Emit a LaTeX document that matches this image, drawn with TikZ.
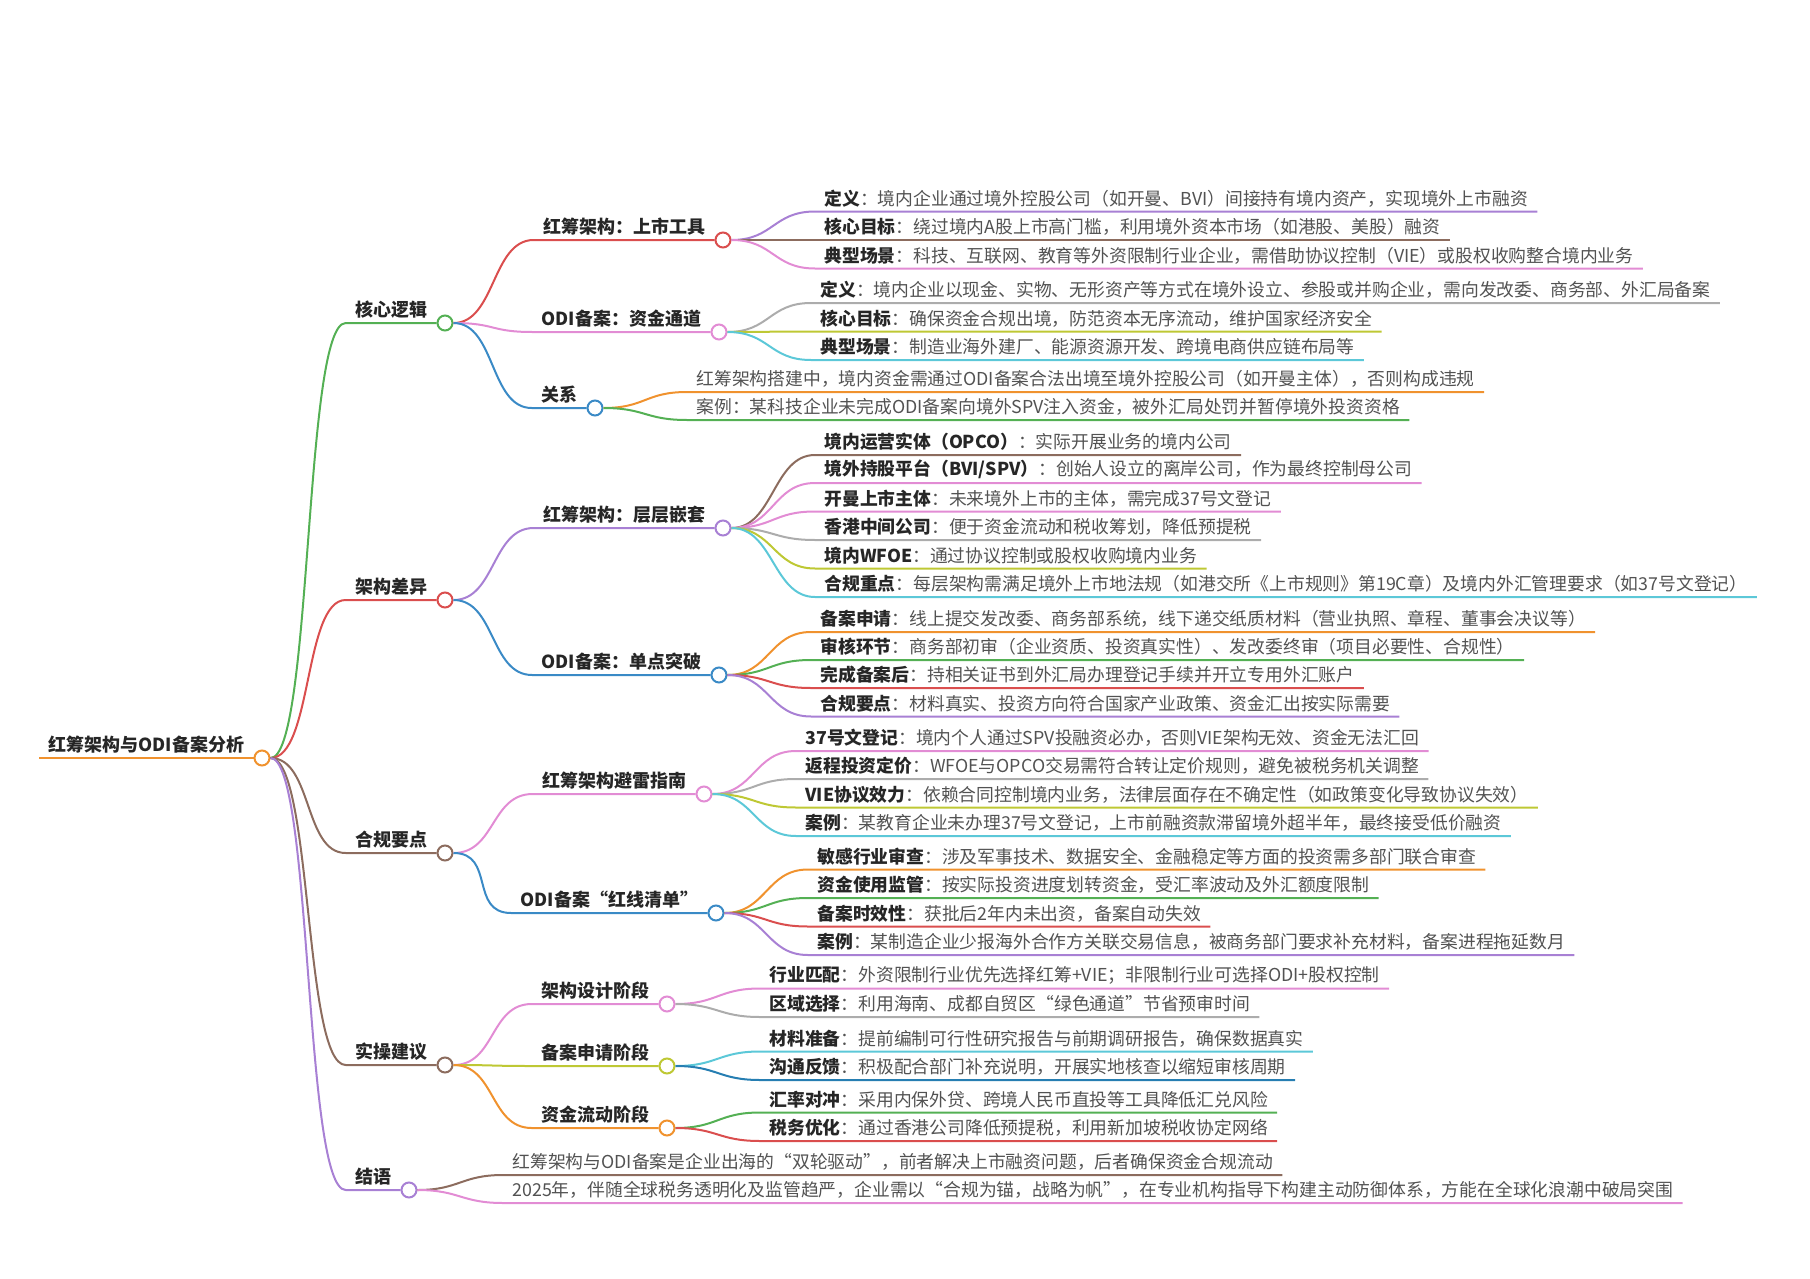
\documentclass[tikz,border=0pt]{standalone}
\usepackage{fontspec}
\newfontfamily\cjk{Noto Sans CJK SC}
\usetikzlibrary{positioning}
\definecolor{corange}{RGB}{240,146,46}
\definecolor{cgreen}{RGB}{84,176,84}
\definecolor{cred}{RGB}{218,78,78}
\definecolor{cbrown}{RGB}{140,108,94}
\definecolor{cpurple}{RGB}{168,128,212}
\definecolor{cpink}{RGB}{226,140,212}
\definecolor{cblue}{RGB}{58,138,198}
\definecolor{cgray}{RGB}{172,172,172}
\definecolor{colive}{RGB}{190,200,52}
\definecolor{ccyan}{RGB}{92,200,216}
\definecolor{cdeep}{RGB}{38,126,178}
\tikzstyle{knob}=[
	circle,
	draw,
	fill=white,
	line width=1pt,
	minimum size=7.5pt,
	inner sep=0pt
]
\tikzstyle{topic}=[
	inner xsep=4.5pt,
	inner ysep=2pt,
	text=black!85,
	font=\cjk\bfseries\fontsize{9pt}{11pt}\selectfont
]
\tikzstyle{leaf}=[
	anchor=south west,
	inner xsep=4.5pt,
	inner ysep=2pt,
	text=black!68,
	font=\cjk\fontsize{8.9pt}{11pt}\selectfont
]
\tikzstyle{twig}=[
	line width=1pt,
	to path={.. controls +(42,0) and +(-42,0) .. (\tikztotarget)}
]
\newcommand{\hd}[1]{\textbf{\textcolor{black!85}{#1}}}

\begin{document}
\begin{tikzpicture}[x=0.5pt,y=-0.5pt]
\useasboundingbox (0,0) rectangle (1810,1279);

\node [knob, draw=corange] (root) at (262,758) {};
\node [topic, above left=0pt of root.west] (rt) {红筹架构与ODI备案分析};
\draw [corange, line width=1pt] (rt.south west) -- (root.west);

\node [knob, draw=cgreen] (k1) at (445,323) {};
\node [topic, above left=0pt of k1.west] (t1) {核心逻辑};
\node [knob, draw=cred] (k2) at (445,600) {};
\node [topic, above left=0pt of k2.west] (t2) {架构差异};
\node [knob, draw=cbrown] (k3) at (445,853) {};
\node [topic, above left=0pt of k3.west] (t3) {合规要点};
\node [knob, draw=cbrown] (k4) at (445,1065) {};
\node [topic, above left=0pt of k4.west] (t4) {实操建议};
\node [knob, draw=cpurple] (k5) at (409,1190) {};
\node [topic, above left=0pt of k5.west] (t5) {结语};
\draw [twig, cgreen] (root.east) to (t1.south west) -- (k1.west);
\draw [twig, cred] (root.east) to (t2.south west) -- (k2.west);
\draw [twig, cbrown] (root.east) to (t3.south west) -- (k3.west);
\draw [twig, cbrown] (root.east) to (t4.south west) -- (k4.west);
\draw [twig, cpurple] (root.east) to (t5.south west) -- (k5.west);

\node [knob, draw=cred] (k11) at (723,240) {};
\node [topic, above left=0pt of k11.west] (t11) {红筹架构：上市工具};
\node [knob, draw=cpink] (k12) at (719,332) {};
\node [topic, above left=0pt of k12.west] (t12) {ODI备案：资金通道};
\node [knob, draw=cblue] (k13) at (595,408) {};
\node [topic, above left=0pt of k13.west] (t13) {关系};
\draw [twig, cred] (k1.east) to (t11.south west) -- (k11.west);
\draw [twig, cpink] (k1.east) to (t12.south west) -- (k12.west);
\draw [twig, cblue] (k1.east) to (t13.south west) -- (k13.west);

\node [knob, draw=cpurple] (k21) at (723,528) {};
\node [topic, above left=0pt of k21.west] (t21) {红筹架构：层层嵌套};
\node [knob, draw=cblue] (k22) at (719,675) {};
\node [topic, above left=0pt of k22.west] (t22) {ODI备案：单点突破};
\draw [twig, cpurple] (k2.east) to (t21.south west) -- (k21.west);
\draw [twig, cblue] (k2.east) to (t22.south west) -- (k22.west);

\node [knob, draw=cpink] (k31) at (704,794) {};
\node [topic, above left=0pt of k31.west] (t31) {红筹架构避雷指南};
\node [knob, draw=cblue] (k32) at (716,913) {};
\node [topic, above left=0pt of k32.west] (t32) {ODI备案“红线清单”};
\draw [twig, cpink] (k3.east) to (t31.south west) -- (k31.west);
\draw [twig, cblue] (k3.east) to (t32.south west) -- (k32.west);

\node [knob, draw=cpink] (k41) at (667,1004) {};
\node [topic, above left=0pt of k41.west] (t41) {架构设计阶段};
\node [knob, draw=colive] (k42) at (667,1066) {};
\node [topic, above left=0pt of k42.west] (t42) {备案申请阶段};
\node [knob, draw=corange] (k43) at (667,1128) {};
\node [topic, above left=0pt of k43.west] (t43) {资金流动阶段};
\draw [twig, cpink] (k4.east) to (t41.south west) -- (k41.west);
\draw [twig, colive] (k4.east) to (t42.south west) -- (k42.west);
\draw [twig, corange] (k4.east) to (t43.south west) -- (k43.west);

\node [leaf] (l111) at (815,211.5) {\hd{定义}：境内企业通过境外控股公司（如开曼、BVI）间接持有境内资产，实现境外上市融资};
\node [leaf] (l112) at (815,240) {\hd{核心目标}：绕过境内A股上市高门槛，利用境外资本市场（如港股、美股）融资};
\node [leaf] (l113) at (815,268.5) {\hd{典型场景}：科技、互联网、教育等外资限制行业企业，需借助协议控制（VIE）或股权收购整合境内业务};
\draw [twig, cpurple] (k11.east) to (l111.south west) -- (l111.south east);
\draw [twig, cbrown] (k11.east) to (l112.south west) -- (l112.south east);
\draw [twig, cpink] (k11.east) to (l113.south west) -- (l113.south east);

\node [leaf] (l121) at (811,303) {\hd{定义}：境内企业以现金、实物、无形资产等方式在境外设立、参股或并购企业，需向发改委、商务部、外汇局备案};
\node [leaf] (l122) at (811,331.5) {\hd{核心目标}：确保资金合规出境，防范资本无序流动，维护国家经济安全};
\node [leaf] (l123) at (811,360) {\hd{典型场景}：制造业海外建厂、能源资源开发、跨境电商供应链布局等};
\draw [twig, cgray] (k12.east) to (l121.south west) -- (l121.south east);
\draw [twig, colive] (k12.east) to (l122.south west) -- (l122.south east);
\draw [twig, ccyan] (k12.east) to (l123.south west) -- (l123.south east);

\node [leaf] (l131) at (687,392) {红筹架构搭建中，境内资金需通过ODI备案合法出境至境外控股公司（如开曼主体），否则构成违规};
\node [leaf] (l132) at (687,420) {案例：某科技企业未完成ODI备案向境外SPV注入资金，被外汇局处罚并暂停境外投资资格};
\draw [twig, corange] (k13.east) to (l131.south west) -- (l131.south east);
\draw [twig, cgreen] (k13.east) to (l132.south west) -- (l132.south east);

\node [leaf] (l211) at (815,455) {\hd{境内运营实体（OPCO）}：实际开展业务的境内公司};
\node [leaf] (l212) at (815,483) {\hd{境外持股平台（BVI/SPV）}：创始人设立的离岸公司，作为最终控制母公司};
\node [leaf] (l213) at (815,511.5) {\hd{开曼上市主体}：未来境外上市的主体，需完成37号文登记};
\node [leaf] (l214) at (815,540) {\hd{香港中间公司}：便于资金流动和税收筹划，降低预提税};
\node [leaf] (l215) at (815,568.5) {\hd{境内WFOE}：通过协议控制或股权收购境内业务};
\node [leaf] (l216) at (815,597) {\hd{合规重点}：每层架构需满足境外上市地法规（如港交所《上市规则》第19C章）及境内外汇管理要求（如37号文登记）};
\draw [twig, cbrown] (k21.east) to (l211.south west) -- (l211.south east);
\draw [twig, cpink] (k21.east) to (l212.south west) -- (l212.south east);
\draw [twig, cpink] (k21.east) to (l213.south west) -- (l213.south east);
\draw [twig, cgray] (k21.east) to (l214.south west) -- (l214.south east);
\draw [twig, colive] (k21.east) to (l215.south west) -- (l215.south east);
\draw [twig, ccyan] (k21.east) to (l216.south west) -- (l216.south east);

\node [leaf] (l221) at (811,632) {\hd{备案申请}：线上提交发改委、商务部系统，线下递交纸质材料（营业执照、章程、董事会决议等）};
\node [leaf] (l222) at (811,660) {\hd{审核环节}：商务部初审（企业资质、投资真实性）、发改委终审（项目必要性、合规性）};
\node [leaf] (l223) at (811,688) {\hd{完成备案后}：持相关证书到外汇局办理登记手续并开立专用外汇账户};
\node [leaf] (l224) at (811,716.5) {\hd{合规要点}：材料真实、投资方向符合国家产业政策、资金汇出按实际需要};
\draw [twig, corange] (k22.east) to (l221.south west) -- (l221.south east);
\draw [twig, cgreen] (k22.east) to (l222.south west) -- (l222.south east);
\draw [twig, cred] (k22.east) to (l223.south west) -- (l223.south east);
\draw [twig, cpurple] (k22.east) to (l224.south west) -- (l224.south east);

\node [leaf] (l311) at (796,751) {\hd{37号文登记}：境内个人通过SPV投融资必办，否则VIE架构无效、资金无法汇回};
\node [leaf] (l312) at (796,779) {\hd{返程投资定价}：WFOE与OPCO交易需符合转让定价规则，避免被税务机关调整};
\node [leaf] (l313) at (796,807.5) {\hd{VIE协议效力}：依赖合同控制境内业务，法律层面存在不确定性（如政策变化导致协议失效）};
\node [leaf] (l314) at (796,836) {\hd{案例}：某教育企业未办理37号文登记，上市前融资款滞留境外超半年，最终接受低价融资};
\draw [twig, cpink] (k31.east) to (l311.south west) -- (l311.south east);
\draw [twig, cgray] (k31.east) to (l312.south west) -- (l312.south east);
\draw [twig, colive] (k31.east) to (l313.south west) -- (l313.south east);
\draw [twig, ccyan] (k31.east) to (l314.south west) -- (l314.south east);

\node [leaf] (l321) at (808,869.5) {\hd{敏感行业审查}：涉及军事技术、数据安全、金融稳定等方面的投资需多部门联合审查};
\node [leaf] (l322) at (808,898) {\hd{资金使用监管}：按实际投资进度划转资金，受汇率波动及外汇额度限制};
\node [leaf] (l323) at (808,926.5) {\hd{备案时效性}：获批后2年内未出资，备案自动失效};
\node [leaf] (l324) at (808,955) {\hd{案例}：某制造企业少报海外合作方关联交易信息，被商务部门要求补充材料，备案进程拖延数月};
\draw [twig, corange] (k32.east) to (l321.south west) -- (l321.south east);
\draw [twig, cgreen] (k32.east) to (l322.south west) -- (l322.south east);
\draw [twig, cred] (k32.east) to (l323.south west) -- (l323.south east);
\draw [twig, cpurple] (k32.east) to (l324.south west) -- (l324.south east);

\node [leaf] (l411) at (760,988.5) {\hd{行业匹配}：外资限制行业优先选择红筹+VIE；非限制行业可选择ODI+股权控制};
\node [leaf] (l412) at (760,1017) {\hd{区域选择}：利用海南、成都自贸区“绿色通道”节省预审时间};
\draw [twig, cpink] (k41.east) to (l411.south west) -- (l411.south east);
\draw [twig, cgray] (k41.east) to (l412.south west) -- (l412.south east);

\node [leaf] (l421) at (760,1051.5) {\hd{材料准备}：提前编制可行性研究报告与前期调研报告，确保数据真实};
\node [leaf] (l422) at (760,1080) {\hd{沟通反馈}：积极配合部门补充说明，开展实地核查以缩短审核周期};
\draw [twig, ccyan] (k42.east) to (l421.south west) -- (l421.south east);
\draw [twig, cdeep] (k42.east) to (l422.south west) -- (l422.south east);

\node [leaf] (l431) at (760,1112.5) {\hd{汇率对冲}：采用内保外贷、跨境人民币直投等工具降低汇兑风险};
\node [leaf] (l432) at (760,1141) {\hd{税务优化}：通过香港公司降低预提税，利用新加坡税收协定网络};
\draw [twig, cgreen] (k43.east) to (l431.south west) -- (l431.south east);
\draw [twig, cred] (k43.east) to (l432.south west) -- (l432.south east);

\node [leaf] (l51) at (503,1175) {红筹架构与ODI备案是企业出海的“双轮驱动”，前者解决上市融资问题，后者确保资金合规流动};
\node [leaf] (l52) at (503,1203) {2025年，伴随全球税务透明化及监管趋严，企业需以“合规为锚，战略为帆”，在专业机构指导下构建主动防御体系，方能在全球化浪潮中破局突围};
\draw [twig, cbrown] (k5.east) to (l51.south west) -- (l51.south east);
\draw [twig, cpink] (k5.east) to (l52.south west) -- (l52.south east);
\end{tikzpicture}
\end{document}
